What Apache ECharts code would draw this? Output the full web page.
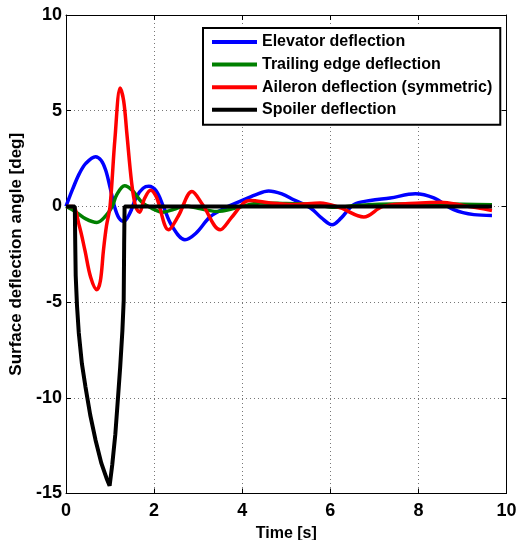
<!DOCTYPE html>
<html>
<head>
<meta charset="utf-8">
<script src="https://cdn.jsdelivr.net/npm/echarts@6/dist/echarts.min.js"></script>
<style>html,body{margin:0;padding:0;background:#fff;width:518px;height:540px;overflow:hidden;}#c{width:518px;height:540px;display:block;}</style>
</head>
<body>
<div id="c"></div>
<script>
var seriesNames = ['Elevator deflection', 'Trailing edge deflection', 'Aileron deflection (symmetric)', 'Spoiler deflection'];
var xTicks = [0, 2, 4, 6, 8, 10];
var yTicks = [-15, -10, -5, 0, 5, 10];

var elevatorT = [0, 0.15, 0.3, 0.45, 0.67, 0.8, 0.9, 1.0, 1.1, 1.2, 1.31, 1.45, 1.6, 1.75, 1.88, 2.05, 2.21, 2.4, 2.7, 2.95, 3.27, 3.6, 3.95, 4.3, 4.6, 4.9, 5.17, 5.55, 5.8, 6.04, 6.25, 6.53, 6.91, 7.36, 7.93, 8.35, 8.8, 9.26, 9.67];
var elevatorV = [0, 0.9, 1.7, 2.25, 2.6, 2.4, 1.9, 1.0, 0.0, -0.6, -0.78, -0.35, 0.5, 0.95, 1.05, 0.8, 0.0, -1.0, -1.74, -1.4, -0.55, -0.1, 0.26, 0.6, 0.8, 0.65, 0.35, -0.08, -0.6, -0.96, -0.6, 0.09, 0.31, 0.44, 0.66, 0.44, -0.17, -0.43, -0.47];

var trailingT = [0, 0.2, 0.45, 0.7, 0.9, 1.05, 1.15, 1.33, 1.5, 1.73, 1.95, 2.2, 2.45, 2.7, 3.0, 3.42, 3.88, 4.41, 5.0, 5.6, 6.1, 6.6, 7.5, 8.5, 9.67];
var trailingV = [0, -0.25, -0.65, -0.84, -0.5, 0, 0.6, 1.08, 0.85, 0.2, -0.1, -0.3, -0.15, 0.02, -0.1, -0.26, -0.07, 0.18, 0.15, 0.12, -0.05, 0.05, 0.12, 0.12, 0.08];

var aileronT = [0, 0.15, 0.3, 0.43, 0.56, 0.7, 0.78, 0.85, 0.92, 1.0, 1.11, 1.23, 1.31, 1.38, 1.49, 1.58, 1.67, 1.78, 1.92, 2.05, 2.33, 2.55, 2.86, 3.1, 3.5, 3.75, 4.03, 4.18, 4.64, 5.2, 5.77, 6.23, 6.76, 7.2, 8.05, 8.5, 9.03, 9.67];
var aileronV = [0, 0, -1.0, -2.3, -3.7, -4.35, -3.9, -2.3, -1.0, 0, 3.5, 6.19, 5.5, 3.85, 1.24, 0.0, -0.3, 0.4, 0.85, 0.5, -1.22, -0.5, 0.78, 0.1, -1.22, -0.6, 0.18, 0.31, 0.18, 0.1, 0.18, -0.08, -0.55, 0, 0.18, 0.22, 0.04, -0.21];

var spoilerT = [0, 0.2, 0.21, 0.22, 0.25, 0.29, 0.36, 0.44, 0.55, 0.67, 0.8, 0.92, 0.99, 1.05, 1.12, 1.18, 1.23, 1.28, 1.31, 1.32, 1.33, 9.67];
var spoilerV = [0, 0, -2.0, -3.6, -5.2, -6.6, -8.2, -9.4, -10.9, -12.2, -13.4, -14.2, -14.6, -13.5, -11.9, -10.0, -8.4, -6.5, -4.9, -2.0, 0, 0];

function pairs(t, v) { return t.map(function (x, i) { return [x, v[i]]; }); }

var chart = echarts.init(document.getElementById('c'), null, { renderer: 'canvas', width: 518, height: 540 });
var font = 'Liberation Sans, Arial, Helvetica, sans-serif';
var gridLine = { show: true, lineStyle: { color: '#777', type: [1, 3], width: 1 } };

function mkSeries(name, data, color, width, smooth) {
  return {
    name: name, type: 'line', data: data, showSymbol: false, symbol: 'none',
    smooth: smooth, lineStyle: { color: color, width: width }, itemStyle: { color: color },
    animation: false, clip: true, z: 3
  };
}

chart.setOption({
  animation: false,
  backgroundColor: '#fff',
  textStyle: { fontFamily: font },
  grid: { left: 66, right: 11.5, top: 15, bottom: 46.5, containLabel: false, outerBoundsMode: 'none' },
  legend: {
    orient: 'vertical', left: 203, top: 28,
    backgroundColor: '#fff', borderColor: '#000', borderWidth: 2,
    padding: [6, 8, 7, 9],
    itemWidth: 45, itemHeight: 14, itemGap: 6.6,
    textStyle: { fontFamily: font, fontWeight: 'bold', fontSize: 16, color: '#000', padding: [0, 0, 0, 0] },
    data: seriesNames,
    icon: 'path://M0,0 L45,0 L45,4 L0,4 Z'
  },
  xAxis: [{
    type: 'value', min: 0, max: 10, interval: 2, position: 'bottom',
    name: 'Time [s]', nameLocation: 'middle', nameGap: 23,
    nameTextStyle: { fontFamily: font, fontWeight: 'bold', fontSize: 16, color: '#000' },
    axisLine: { show: true, onZero: false, lineStyle: { color: '#000', width: 1 } },
    axisTick: { show: true, inside: true, length: 5, lineStyle: { color: '#000' } },
    axisLabel: { fontFamily: font, fontWeight: 'bold', fontSize: 18, color: '#000', margin: 9,
      formatter: function (v) { return xTicks.indexOf(v) >= 0 ? String(v) : ''; } },
    splitLine: gridLine
  }, {
    type: 'value', min: 0, max: 10, interval: 2, position: 'top',
    axisLine: { show: true, onZero: false, lineStyle: { color: '#000', width: 1 } },
    axisTick: { show: true, inside: true, length: 5, lineStyle: { color: '#000' } },
    axisLabel: { show: false }, splitLine: { show: false }
  }],
  yAxis: [{
    type: 'value', min: -15, max: 10, interval: 5, position: 'left',
    name: 'Surface deflection angle [deg]', nameLocation: 'middle', nameGap: 41,
    nameTextStyle: { fontFamily: font, fontWeight: 'bold', fontSize: 17, color: '#000' },
    axisLine: { show: true, onZero: false, lineStyle: { color: '#000', width: 1 } },
    axisTick: { show: true, inside: true, length: 5, lineStyle: { color: '#000' } },
    axisLabel: { fontFamily: font, fontWeight: 'bold', fontSize: 18, color: '#000', margin: 4,
      formatter: function (v) { return yTicks.indexOf(v) >= 0 ? String(v) : ''; } },
    splitLine: gridLine
  }, {
    type: 'value', min: -15, max: 10, interval: 5, position: 'right',
    axisLine: { show: true, onZero: false, lineStyle: { color: '#000', width: 1 } },
    axisTick: { show: true, inside: true, length: 5, lineStyle: { color: '#000' } },
    axisLabel: { show: false }, splitLine: { show: false }
  }],
  series: [
    mkSeries(seriesNames[0], pairs(elevatorT, elevatorV), '#0000ff', 3.5, 0.35),
    mkSeries(seriesNames[1], pairs(trailingT, trailingV), '#008000', 3.5, 0.35),
    mkSeries(seriesNames[2], pairs(aileronT, aileronV), '#ff0000', 3.5, 0.35),
    mkSeries(seriesNames[3], pairs(spoilerT, spoilerV), '#000000', 4, false)
  ]
});
</script>
</body>
</html>
